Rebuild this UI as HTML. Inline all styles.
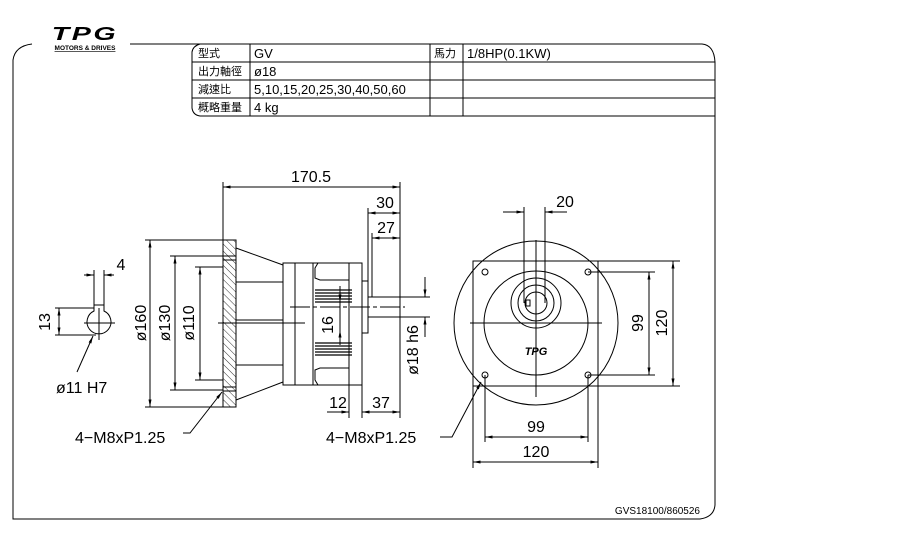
<!DOCTYPE html>
<html><head><meta charset="utf-8"><style>
html,body{margin:0;padding:0;background:#fff;}
svg{display:block;}
text{font-family:"Liberation Sans","Noto Sans CJK TC",sans-serif;fill:#000;}
</style></head><body>
<svg width="902" height="537" viewBox="0 0 902 537" xmlns="http://www.w3.org/2000/svg">
<defs>
<pattern id="h" width="5" height="5" patternUnits="userSpaceOnUse" patternTransform="rotate(-45)"><line x1="0" y1="0" x2="0" y2="5" stroke="#000" stroke-width="0.8"/></pattern>
<marker id="a" viewBox="0 0 10 4" refX="10" refY="2" markerWidth="8" markerHeight="3" orient="auto-start-reverse" markerUnits="userSpaceOnUse"><path d="M0,0L10,2L0,4z" fill="#000"/></marker>
</defs>
<g fill="none" stroke="#000" stroke-width="1">
<path d="M32,44 Q15,46 13,60 L13,519 L700,519 Q714,517 715,505 L715,62 Q714,45 702,44 L130,44"/>
<path d="M200,44 Q193,46 192,52 L192,108 Q193,115 200,116 L715,116"/>
<line x1="192" y1="62" x2="715" y2="62"/><line x1="192" y1="80" x2="715" y2="80"/><line x1="192" y1="98" x2="715" y2="98"/>
<line x1="250" y1="44" x2="250" y2="116"/><line x1="430" y1="44" x2="430" y2="116"/><line x1="463" y1="44" x2="463" y2="116"/>
</g>
<g>
<text x="85" y="41" font-size="22" font-weight="bold" text-anchor="middle" font-style="italic" letter-spacing="2" transform="translate(85,0) scale(1.3,0.85) translate(-85,0)" dy="6">TPG</text>
<rect x="46" y="44" width="78" height="7" fill="#fff"/>
<text x="85" y="50" font-size="6.5" font-weight="bold" text-anchor="middle" text-decoration="underline">MOTORS &amp; DRIVES</text>
</g>
<g font-size="13">
<text x="198" y="57" font-size="11">型式</text><text x="254" y="58">GV</text><text x="434" y="57" font-size="11">馬力</text><text x="467" y="58">1/8HP(0.1KW)</text>
<text x="198" y="75" font-size="11">出力軸徑</text><text x="254" y="76">ø18</text>
<text x="198" y="93" font-size="11">減速比</text><text x="254" y="94">5,10,15,20,25,30,40,50,60</text>
<text x="198" y="111" font-size="11">概略重量</text><text x="254" y="112">4  kg</text>
</g>
<text x="700" y="514" font-size="10" text-anchor="end">GVS18100/860526</text>

<g fill="none" stroke="#000" stroke-width="1">
<rect x="223" y="240" width="13" height="167" fill="url(#h)"/>
<line x1="223" y1="256" x2="236" y2="256"/><line x1="223" y1="260" x2="236" y2="260"/>
<line x1="223" y1="387" x2="236" y2="387"/><line x1="223" y1="391" x2="236" y2="391"/>
<line x1="236" y1="248" x2="283" y2="265"/><line x1="236" y1="400" x2="283" y2="382"/>
<line x1="236" y1="282" x2="283" y2="282"/><line x1="236" y1="365" x2="283" y2="365"/>
<line x1="236" y1="320" x2="283" y2="320"/><line x1="236" y1="323" x2="283" y2="323"/>
<rect x="283" y="263" width="79" height="122"/>
<line x1="295" y1="263" x2="295" y2="385"/><line x1="313" y1="263" x2="313" y2="385"/><line x1="349" y1="263" x2="349" y2="385"/>
<path d="M318,263 L315,268 L315,278 L320,280 L349,280"/><path d="M318,385 L315,380 L315,370 L320,368 L349,368"/>
<rect x="362" y="281" width="6" height="52"/>
<rect x="368" y="297" width="32" height="20"/>
<line x1="290" y1="307" x2="405" y2="307" stroke-dasharray="20,3,4,3"/>
<line x1="218" y1="323" x2="305" y2="323"/>
</g>
<g stroke="#000" stroke-width="1.2">
<line x1="315" y1="290" x2="352" y2="290"/><line x1="315" y1="293" x2="352" y2="293"/><line x1="315" y1="296" x2="352" y2="296"/><line x1="315" y1="299" x2="352" y2="299"/><line x1="315" y1="302" x2="352" y2="302"/>
<line x1="315" y1="343" x2="352" y2="343"/><line x1="315" y1="346" x2="352" y2="346"/><line x1="315" y1="349" x2="352" y2="349"/><line x1="315" y1="352" x2="352" y2="352"/><line x1="315" y1="355" x2="352" y2="355"/>
</g>
<g fill="none" stroke="#000" stroke-width="1">
<line x1="223" y1="182" x2="223" y2="240"/><line x1="400" y1="182" x2="400" y2="297"/>
<line x1="223" y1="187" x2="400" y2="187" marker-start="url(#a)" marker-end="url(#a)"/>
<line x1="368" y1="208" x2="368" y2="297"/><line x1="372" y1="233" x2="372" y2="297"/>
<line x1="368" y1="213" x2="400" y2="213" marker-start="url(#a)" marker-end="url(#a)"/>
<line x1="372" y1="238" x2="400" y2="238" marker-start="url(#a)" marker-end="url(#a)"/>
<line x1="400" y1="297" x2="430" y2="297"/><line x1="400" y1="317" x2="430" y2="317"/>
<line x1="425" y1="277" x2="425" y2="297" marker-end="url(#a)"/><line x1="425" y1="337" x2="425" y2="317" marker-end="url(#a)"/>
<line x1="340" y1="286" x2="340" y2="345"/>
<line x1="340" y1="286" x2="340" y2="302" marker-end="url(#a)"/><line x1="340" y1="345" x2="340" y2="330" marker-end="url(#a)"/>
<line x1="349" y1="385" x2="349" y2="418"/><line x1="362" y1="385" x2="362" y2="418"/><line x1="400" y1="317" x2="400" y2="418"/>
<line x1="327" y1="412" x2="349" y2="412" marker-end="url(#a)"/><line x1="362" y1="412" x2="400" y2="412" marker-start="url(#a)" marker-end="url(#a)"/>
<line x1="145" y1="240" x2="223" y2="240"/><line x1="145" y1="407" x2="223" y2="407"/>
<line x1="150" y1="240" x2="150" y2="407" marker-start="url(#a)" marker-end="url(#a)"/>
<line x1="170" y1="256" x2="223" y2="256"/><line x1="170" y1="390" x2="223" y2="390"/>
<line x1="175" y1="256" x2="175" y2="390" marker-start="url(#a)" marker-end="url(#a)"/>
<line x1="195" y1="267" x2="223" y2="267"/><line x1="195" y1="380" x2="223" y2="380"/>
<line x1="200" y1="267" x2="200" y2="380" marker-start="url(#a)" marker-end="url(#a)"/>
<path d="M183,433 L190,433 L222,392" marker-end="url(#a)"/>
<path d="M94,311 A12,12 0 1 0 104,311 L104,305 L94,305 Z"/>
<line x1="94" y1="270" x2="94" y2="305"/><line x1="104" y1="270" x2="104" y2="305"/>
<line x1="84" y1="275" x2="94" y2="275" marker-end="url(#a)"/><line x1="114" y1="275" x2="104" y2="275" marker-end="url(#a)"/>
<line x1="84" y1="323" x2="115" y2="323"/><line x1="99" y1="308" x2="99" y2="340"/>
<line x1="55" y1="308" x2="94" y2="308"/><line x1="55" y1="335" x2="96" y2="335"/>
<line x1="59" y1="308" x2="59" y2="335" marker-start="url(#a)" marker-end="url(#a)"/>
<line x1="77" y1="372" x2="93" y2="336" marker-end="url(#a)"/>
<circle cx="536" cy="323" r="82"/>
<rect x="473" y="261" width="125" height="125"/>
<circle cx="536" cy="323" r="52"/>
<circle cx="536" cy="303" r="25"/><circle cx="536" cy="303" r="18"/><circle cx="536" cy="303" r="11"/>
<rect x="526" y="300" width="4" height="6"/>
<circle cx="485" cy="272" r="3"/><circle cx="588" cy="272" r="3"/><circle cx="485" cy="375" r="3"/><circle cx="588" cy="375" r="3"/>
<line x1="470" y1="323" x2="602" y2="323"/><line x1="536" y1="240" x2="536" y2="397"/>
<line x1="524" y1="207" x2="524" y2="303"/><line x1="545" y1="207" x2="545" y2="303"/>
<line x1="503" y1="212" x2="524" y2="212" marker-end="url(#a)"/><line x1="567" y1="212" x2="545" y2="212" marker-end="url(#a)"/>
<line x1="598" y1="261" x2="680" y2="261"/><line x1="598" y1="386" x2="680" y2="386"/>
<line x1="588" y1="272" x2="655" y2="272"/><line x1="588" y1="375" x2="655" y2="375"/>
<line x1="649" y1="272" x2="649" y2="375" marker-start="url(#a)" marker-end="url(#a)"/>
<line x1="673" y1="261" x2="673" y2="386" marker-start="url(#a)" marker-end="url(#a)"/>
<line x1="485" y1="375" x2="485" y2="442"/><line x1="588" y1="375" x2="588" y2="442"/>
<line x1="473" y1="386" x2="473" y2="468"/><line x1="598" y1="386" x2="598" y2="468"/>
<line x1="485" y1="437" x2="588" y2="437" marker-start="url(#a)" marker-end="url(#a)"/>
<line x1="473" y1="462" x2="598" y2="462" marker-start="url(#a)" marker-end="url(#a)"/>
<path d="M440,437 L452,437 L481,382" marker-end="url(#a)"/>
</g>
<text x="536" y="355" font-size="11" font-weight="bold" text-anchor="middle" font-style="italic">TPG</text>
<g font-size="16">
<text x="311" y="182" text-anchor="middle">170.5</text>
<text x="385" y="208" text-anchor="middle">30</text>
<text x="386" y="233" text-anchor="middle">27</text>
<text x="338" y="408" text-anchor="middle">12</text>
<text x="381" y="408" text-anchor="middle">37</text>
<text x="75" y="443">4−M8xP1.25</text>
<text x="326" y="443">4−M8xP1.25</text>
<text x="121" y="270" text-anchor="middle">4</text>
<text x="56" y="393">ø11  H7</text>
<text x="565" y="207" text-anchor="middle">20</text>
<text x="536" y="432" text-anchor="middle">99</text>
<text x="536" y="457" text-anchor="middle">120</text>
<text transform="translate(50,322) rotate(-90)" text-anchor="middle">13</text>
<text transform="translate(146,323) rotate(-90)" text-anchor="middle">ø160</text>
<text transform="translate(170,323) rotate(-90)" text-anchor="middle">ø130</text>
<text transform="translate(194,323) rotate(-90)" text-anchor="middle">ø110</text>
<text transform="translate(333,325) rotate(-90)" text-anchor="middle">16</text>
<text transform="translate(418,350) rotate(-90)" text-anchor="middle">ø18 h6</text>
<text transform="translate(643,323) rotate(-90)" text-anchor="middle">99</text>
<text transform="translate(667,323) rotate(-90)" text-anchor="middle">120</text>
</g>
</svg>
</body></html>
